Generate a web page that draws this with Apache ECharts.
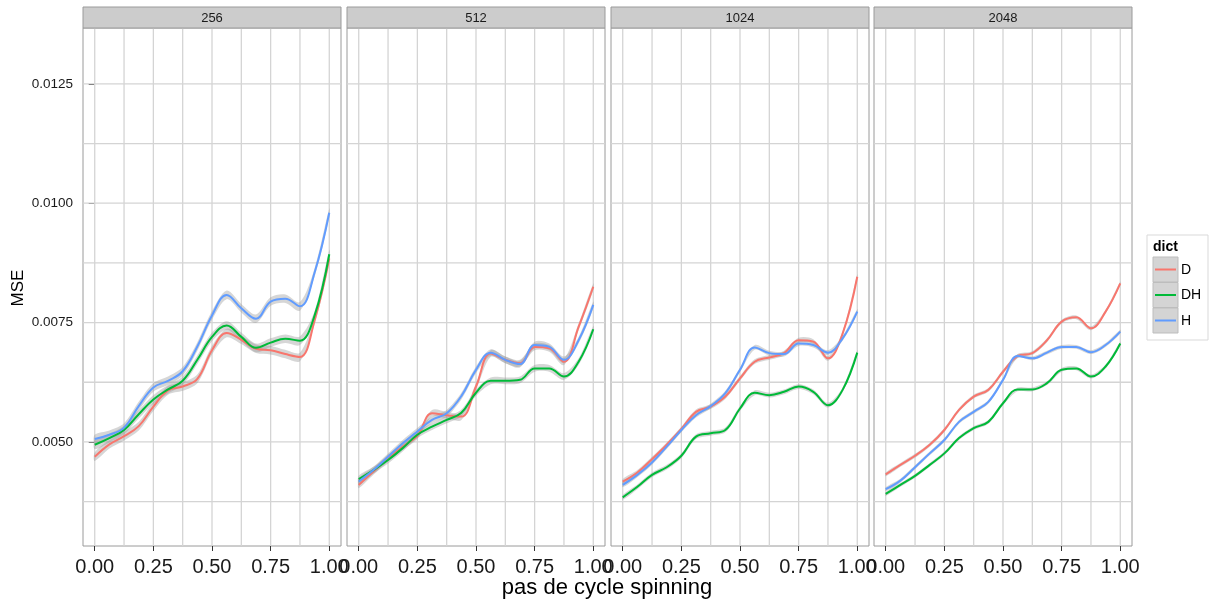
<!DOCTYPE html>
<html><head><meta charset="utf-8">
<script src="https://cdn.jsdelivr.net/npm/echarts@6/dist/echarts.min.js"></script>
<style>html,body{margin:0;padding:0;background:#fff}#c{width:1209px;height:601px}</style>
</head><body><div id="c"></div><script>
// ---------- data ----------
const panels = ['256', '512', '1024', '2048'];
const dicts = ['D', 'DH', 'H'];
const dictColors = ['#F8766D', '#00BA38', '#619CFF'];
const xs = [0, 0.0625, 0.125, 0.1875, 0.25, 0.3125, 0.375, 0.4375, 0.5, 0.5625, 0.625, 0.6875, 0.75, 0.8125, 0.875, 0.9375, 1];
const xTicks = [0, 0.25, 0.5, 0.75, 1];
const xGridLines = [0, 0.125, 0.25, 0.375, 0.5, 0.625, 0.75, 0.875, 1];
const yTicks = [0.005, 0.0075, 0.01, 0.0125];
const yGridLines = [0.00375, 0.005, 0.00625, 0.0075, 0.00875, 0.01, 0.01125, 0.0125];

const d256  = [0.00469,0.00495,0.00512,0.00533,0.00574,0.00608,0.00616,0.00632,0.00692,0.00728,0.00714,0.00695,0.00692,0.00684,0.00678,0.00755,0.00884];
const dh256 = [0.00494,0.00508,0.00525,0.00558,0.00589,0.00610,0.00628,0.00672,0.00720,0.00744,0.00720,0.00697,0.00708,0.00716,0.00712,0.00765,0.00893];
const h256  = [0.00506,0.00515,0.00530,0.00575,0.00614,0.00628,0.00648,0.00700,0.00765,0.00808,0.00780,0.00758,0.00794,0.00800,0.00784,0.00855,0.00980];

const d512  = [0.00410,0.00438,0.00466,0.00490,0.00513,0.00560,0.00556,0.00553,0.00616,0.00685,0.00672,0.00665,0.00699,0.00696,0.00668,0.00741,0.00825];
const dh512 = [0.00422,0.00441,0.00462,0.00487,0.00515,0.00532,0.00546,0.00561,0.00603,0.00628,0.00628,0.00630,0.00654,0.00654,0.00637,0.00668,0.00736];
const h512  = [0.00417,0.00441,0.00469,0.00497,0.00522,0.00546,0.00560,0.00596,0.00651,0.00687,0.00672,0.00663,0.00703,0.00699,0.00672,0.00713,0.00787];

const d1024  = [0.00417,0.00436,0.00464,0.00494,0.00527,0.00563,0.00574,0.00595,0.00633,0.00668,0.00677,0.00686,0.00713,0.00710,0.00675,0.00727,0.00846];
const dh1024 = [0.00384,0.00406,0.00431,0.00447,0.00471,0.00511,0.00518,0.00525,0.00570,0.00603,0.00598,0.00605,0.00616,0.00605,0.00577,0.00609,0.00687];
const h1024  = [0.00410,0.00431,0.00457,0.00490,0.00525,0.00556,0.00575,0.00602,0.00651,0.00698,0.00686,0.00684,0.00706,0.00703,0.00687,0.00717,0.00773];

const d2048  = [0.00432,0.00452,0.00471,0.00494,0.00525,0.00567,0.00595,0.00609,0.00647,0.00680,0.00686,0.00713,0.00752,0.00761,0.00738,0.00773,0.00832];
const dh2048 = [0.00391,0.00410,0.00429,0.00452,0.00476,0.00508,0.00529,0.00542,0.00581,0.00610,0.00610,0.00623,0.00651,0.00654,0.00637,0.00658,0.00706];
const h2048  = [0.00401,0.00419,0.00447,0.00476,0.00504,0.00542,0.00563,0.00584,0.00630,0.00680,0.00675,0.00687,0.00699,0.00699,0.00688,0.00703,0.00731];

const seBand = [0.00009, 0.00007, 0.00005, 0.00004];
const panelSeries = [[d256, dh256, h256], [d512, dh512, h512], [d1024, dh1024, h1024], [d2048, dh2048, h2048]];

const xMin = -0.05, xMax = 1.05;
const yMin = 0.00282, yMax = 0.01367;

// ---------- layout ----------
const FONT = 'Liberation Sans, Arial, Helvetica, sans-serif';
const gridLefts = [83, 347, 611, 874];
const gridW = 258, gridTop = 28, gridH = 518;
const stripTop = 7, stripH = 21;
const gridColor = '#d4d4d4';

const grids = [], xAxes = [], yAxes = [], series = [], graphics = [];

function bandSeries(pi, vals, se) {
  const lo = vals.map(v => v - se), hi = vals.map(v => v + se);
  return {
    type: 'custom', xAxisIndex: pi, yAxisIndex: pi, silent: true, z: 2, clip: true,
    data: xs.map((x, i) => [x, lo[i], hi[i]]),
    encode: { x: 0, y: [1, 2] },
    renderItem: function (params, api) {
      if (params.dataIndex !== 0) return null;
      const up = xs.map((x, i) => api.coord([x, hi[i]]));
      const dn = xs.map((x, i) => api.coord([x, lo[i]])).reverse();
      return {
        type: 'group',
        children: [{
          type: 'polygon',
          shape: { points: up.concat(dn), smooth: 0.3 },
          style: { fill: 'rgba(153,153,153,0.4)', stroke: null }
        }]
      };
    }
  };
}

function gridLineSeries(pi, pts) {
  return { type: 'line', xAxisIndex: pi, yAxisIndex: pi, data: pts, silent: true, z: 1,
    symbol: 'none', lineStyle: { color: gridColor, width: 1.3 }, emphasis: { disabled: true } };
}

panels.forEach((p, pi) => {
  grids.push({ left: gridLefts[pi], top: gridTop, width: gridW, height: gridH,
    show: true, backgroundColor: '#fff', borderColor: '#9a9a9a', borderWidth: 1 });
  xAxes.push({ type: 'value', gridIndex: pi, min: xMin, max: xMax,
    axisLine: { show: false }, splitLine: { show: false },
    axisTick: { show: true, customValues: xTicks, length: 5, lineStyle: { color: '#333', width: 1 } },
    axisLabel: { show: true, customValues: xTicks, formatter: v => v.toFixed(2),
      fontSize: 20, color: '#1a1a1a', fontFamily: FONT, margin: 11, showMinLabel: true, showMaxLabel: true } });
  yAxes.push({ type: 'value', gridIndex: pi, min: yMin, max: yMax,
    axisLine: { show: false }, splitLine: { show: false },
    axisTick: { show: pi === 0, customValues: yTicks, length: 6, lineStyle: { color: '#333', width: 1 } },
    axisLabel: { show: pi === 0, customValues: yTicks, formatter: v => v.toFixed(4),
      fontSize: 13.5, color: '#1a1a1a', fontFamily: FONT, margin: 10 } });

  // grid lines
  xGridLines.forEach(v => series.push(gridLineSeries(pi, [[v, yMin], [v, yMax]])));
  yGridLines.forEach(v => series.push(gridLineSeries(pi, [[xMin, v], [xMax, v]])));

  panelSeries[pi].forEach((vals) => series.push(bandSeries(pi, vals, seBand[pi])));
  panelSeries[pi].forEach((vals, di) => {
    series.push({ type: 'line', name: dicts[di], xAxisIndex: pi, yAxisIndex: pi, smooth: 0.4,
      symbol: 'none', z: 5, lineStyle: { color: dictColors[di], width: 2 },
      itemStyle: { color: dictColors[di] },
      data: xs.map((x, i) => [x, vals[i]]) });
  });

  // strip
  graphics.push({ type: 'rect', shape: { x: gridLefts[pi], y: stripTop, width: gridW, height: stripH },
    style: { fill: '#cccccc', stroke: '#9a9a9a', lineWidth: 1 }, z: 10 });
  graphics.push({ type: 'text', x: gridLefts[pi] + gridW / 2, y: stripTop + stripH / 2 + 1,
    style: { text: p, fontSize: 13, fontFamily: FONT, fill: '#1a1a1a', align: 'center', verticalAlign: 'middle' }, z: 11 });
});

// axis titles
graphics.push({ type: 'text', x: 607, y: 588,
  style: { text: 'pas de cycle spinning', fontSize: 22, fontFamily: FONT, fill: '#000', align: 'center', verticalAlign: 'middle' } });
graphics.push({ type: 'text', x: 18, y: 288, rotation: Math.PI / 2,
  style: { text: 'MSE', fontSize: 17, fontFamily: FONT, fill: '#000', align: 'center', verticalAlign: 'middle' } });

// legend
const lgX = 1147, lgY = 235;
graphics.push({ type: 'rect', shape: { x: lgX, y: lgY, width: 61, height: 105 },
  style: { fill: '#fff', stroke: '#d9d9d9', lineWidth: 1 } });
graphics.push({ type: 'text', x: lgX + 6, y: lgY + 12,
  style: { text: 'dict', fontSize: 14, fontWeight: 'bold', fontFamily: FONT, fill: '#000', align: 'left', verticalAlign: 'middle' } });
dicts.forEach((d, di) => {
  const ky = lgY + 22 + di * 25.5;
  graphics.push({ type: 'rect', shape: { x: lgX + 6, y: ky, width: 25, height: 25 },
    style: { fill: '#d4d4d4', stroke: '#bdbdbd', lineWidth: 1 } });
  graphics.push({ type: 'line', shape: { x1: lgX + 8, y1: ky + 12.5, x2: lgX + 29, y2: ky + 12.5 },
    style: { stroke: dictColors[di], lineWidth: 2 } });
  graphics.push({ type: 'text', x: lgX + 34, y: ky + 13,
    style: { text: d, fontSize: 14, fontFamily: FONT, fill: '#000', align: 'left', verticalAlign: 'middle' } });
});

const chart = echarts.init(document.getElementById('c'), null, { renderer: 'canvas' });
chart.setOption({
  animation: false,
  backgroundColor: '#fff',
  textStyle: { fontFamily: FONT },
  grid: grids, xAxis: xAxes, yAxis: yAxes, series: series, graphic: graphics
});
</script></body></html>
